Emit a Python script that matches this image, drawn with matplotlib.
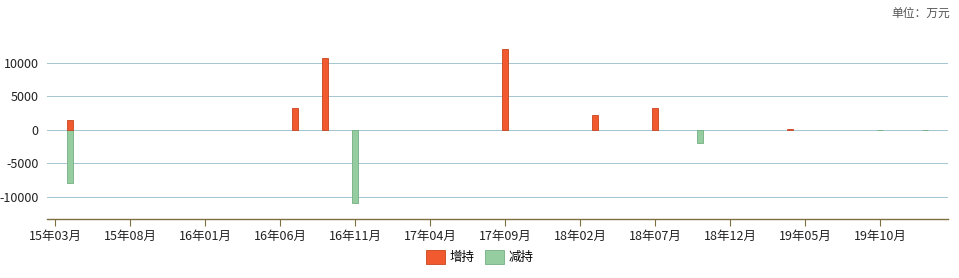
import matplotlib
matplotlib.use("Agg")
import matplotlib.pyplot as plt
from matplotlib.patches import Patch

plt.rcParams['font.family'] = ['Noto Sans CJK SC', 'DejaVu Sans']

# Month categories from 2015-03 to 2020-02
months = []
y, m = 2015, 3
for _ in range(60):
    months.append(f"{y % 100:02d}年{m:02d}月")
    m += 1
    if m > 12:
        m = 1
        y += 1

# Holdings changes (万元) by month
increase_months = ["15年04月", "16年07月", "16年09月", "17年09月", "18年03月", "18年07月", "19年04月"]
increase_values = [1500, 3300, 10800, 12100, 2200, 3300, 120]
decrease_months = ["15年04月", "16年11月", "18年10月", "19年10月", "20年01月"]
decrease_values = [-7900, -11000, -1900, -80, -80]

tick_labels = ["15年03月", "15年08月", "16年01月", "16年06月", "16年11月", "17年04月",
               "17年09月", "18年02月", "18年07月", "18年12月", "19年05月", "19年10月"]
y_ticks = [10000, 5000, 0, -5000, -10000]

red = "#F15A2F"
red_edge = "#C8441E"
green = "#96CDA0"
green_edge = "#74AE80"

fig = plt.figure(figsize=(9.59, 2.78), dpi=100)
ax = fig.add_axes([47 / 959, 59 / 278, 901 / 959, 176 / 278])

idx = {lab: i for i, lab in enumerate(months)}
bw = 0.44
ax.bar([idx[k] for k in decrease_months], decrease_values, width=bw,
       color=green, edgecolor=green_edge, linewidth=0.6, zorder=3)
ax.bar([idx[k] for k in increase_months], increase_values, width=bw,
       color=red, edgecolor=red_edge, linewidth=0.6, zorder=3)

ax.set_xlim(-0.53, 59.53)
ax.set_ylim(-13350, 13000)

ax.set_yticks(y_ticks)
ax.set_yticklabels([str(v) for v in y_ticks])
for gy in y_ticks:
    ax.axhline(gy, color="#A6C6D4", linewidth=0.72, zorder=0, antialiased=False)
ax.tick_params(axis="y", length=0, labelsize=9, pad=6, colors="#222222")

ax.set_xticks([idx[t] for t in tick_labels])
ax.set_xticklabels(tick_labels)
ax.tick_params(axis="x", length=5, width=0.8, color="#7F6F3F", labelsize=9,
               pad=3, labelcolor="#222222")

for side in ("top", "right", "left"):
    ax.spines[side].set_visible(False)
ax.spines["bottom"].set_color("#7F6F3F")
ax.spines["bottom"].set_linewidth(1.0)

fig.text(950 / 959, 1 - 13 / 278, "单位：万元", ha="right", va="center",
         fontsize=8.5, color="#555555")

handles = [Patch(facecolor=red, edgecolor=red_edge, linewidth=0.6, label="增持"),
           Patch(facecolor=green, edgecolor=green_edge, linewidth=0.6, label="减持")]
fig.legend(handles=handles, loc="center", bbox_to_anchor=(480 / 959, 1 - 257 / 278),
           ncol=2, frameon=False, fontsize=9, handlelength=1.5, handleheight=1.3,
           handletextpad=0.4, columnspacing=0.8)

fig.savefig("out.png", dpi=100)
